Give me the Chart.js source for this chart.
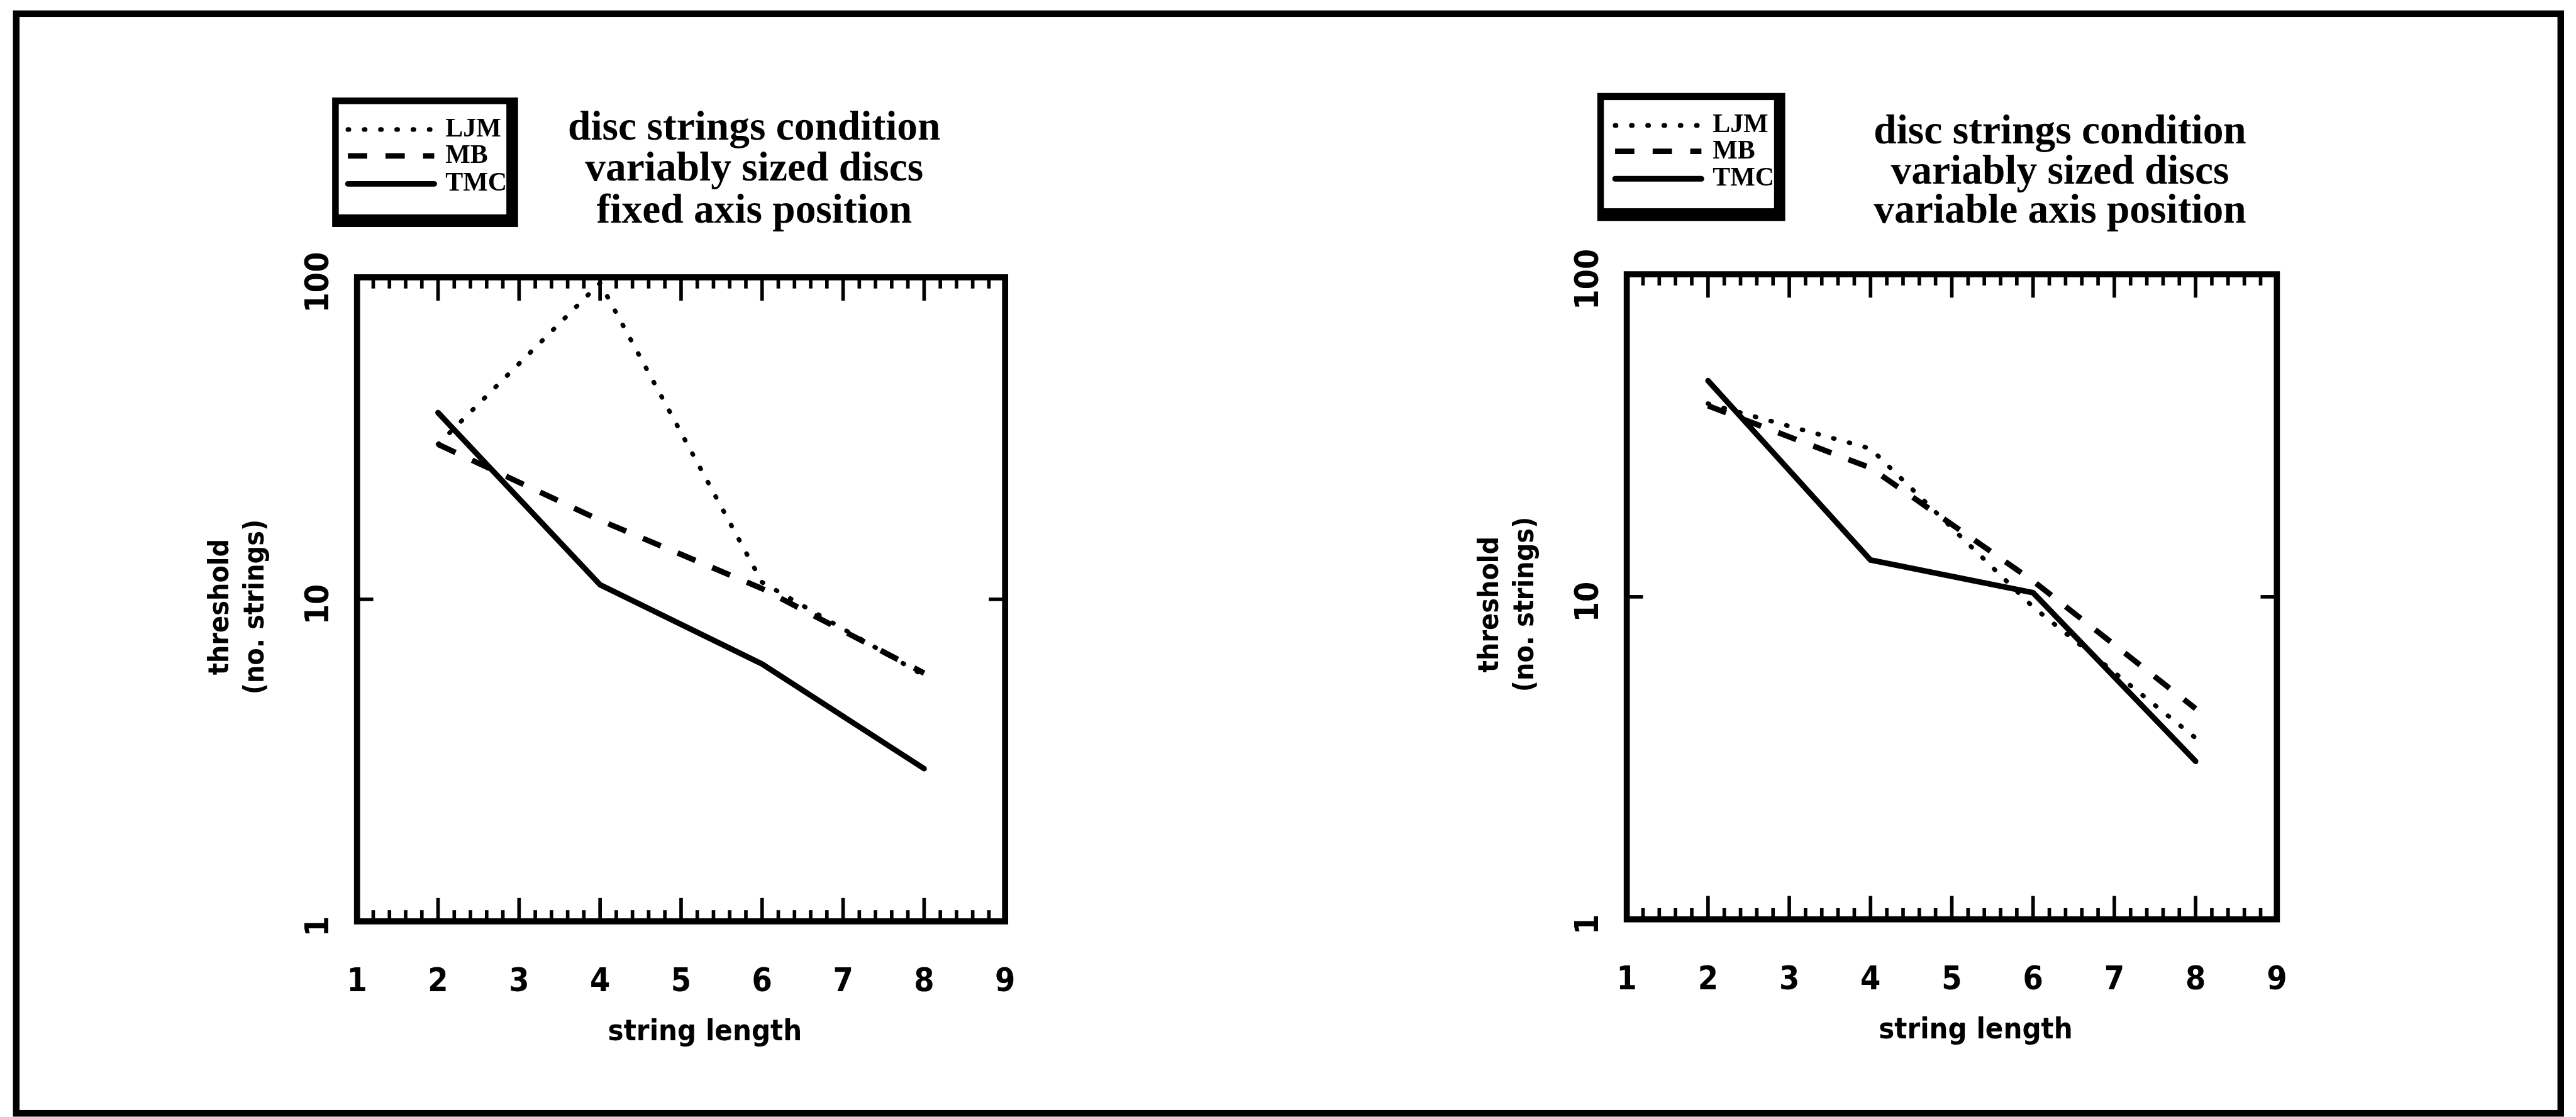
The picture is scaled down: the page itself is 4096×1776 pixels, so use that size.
<!DOCTYPE html>
<html>
<head>
<meta charset="utf-8">
<script src="https://cdn.jsdelivr.net/npm/chart.js@4.4.1/dist/chart.umd.min.js"></script>
<style>
  html, body { margin: 0; padding: 0; background: #fff; }
  #page { position: relative; width: 4096px; height: 1776px; overflow: hidden; background: #fff; }
  #page canvas { position: absolute; left: 0; top: 0; }
</style>
</head>
<body>
<div id="page">
  <canvas id="leftChart" width="4096" height="1776"></canvas>
  <canvas id="rightChart" width="4096" height="1776"></canvas>
</div>
<script>
// Values
const stringLength = [2, 4, 6, 8];
const seriesNames = ['LJM', 'MB', 'TMC'];

// fixed axis position panel
const fixedLJM = [30.3, 96, 11.3, 5.8];
const fixedMB = [30.3, 17.6, 10.8, 5.9];
const fixedTMC = [38.0, 11.1, 6.3, 2.98];

// variable axis position panel
const varLJM = [39.7, 28.8, 9.3, 3.65];
const varMB = [39.1, 25.1, 11.2, 4.5];
const varTMC = [46.8, 13.0, 10.3, 3.09];

const xTicks = [1, 2, 3, 4, 5, 6, 7, 8, 9];
const xTickLabels = ['1', '2', '3', '4', '5', '6', '7', '8', '9'];
const yTicks = [1, 10, 100];
const yTickLabels = ['1', '10', '100'];
const xTitle = 'string length';
const yTitle = ['threshold', '(no. strings)'];
const titleFixed = ['disc strings condition', 'variably sized discs', 'fixed axis position'];
const titleVariable = ['disc strings condition', 'variably sized discs', 'variable axis position'];

// everything below is measured in reference pixels and scaled down
const S = 4096 / 5072;
const px = v => v * S;

const sans = size => `bold ${px(size)}px 'DejaVu Sans Condensed', 'DejaVu Sans', sans-serif`;
const serif = size => `bold ${px(size)}px 'Liberation Serif', 'DejaVu Serif', serif`;

const lineStyles = [
  { borderWidth: px(9), borderDash: [px(2), px(30)], borderCapStyle: 'round' },
  { borderWidth: px(11), borderDash: [px(38), px(36)], borderCapStyle: 'butt' },
  { borderWidth: px(11), borderDash: [], borderCapStyle: 'round' }
];

function line(ctx, x1, y1, x2, y2) {
  ctx.beginPath();
  ctx.moveTo(x1, y1);
  ctx.lineTo(x2, y2);
  ctx.stroke();
}

const figurePlugin = {
  id: 'figure',
  beforeDatasetsDraw(chart, args, opts) {
    const { ctx, chartArea: a, scales: { x, y } } = chart;
    ctx.save();
    ctx.strokeStyle = '#000';
    ctx.lineCap = 'butt';

    if (opts.frame) {
      ctx.lineWidth = px(13);
      ctx.strokeRect(px(32), px(27), px(5042 - 32), px(2192 - 27));
    }

    // inward ticks, major every 1 and minor every 0.2
    ctx.lineWidth = px(7);
    for (let i = 0; i <= 40; i++) {
      const v = 1 + i * 0.2;
      const len = px(i % 5 === 0 ? 46 : 22);
      const xp = x.getPixelForValue(v);
      line(ctx, xp, a.bottom, xp, a.bottom - len);
      line(ctx, xp, a.top, xp, a.top + len);
    }
    yTicks.forEach(v => {
      const yp = y.getPixelForValue(v);
      line(ctx, a.left, yp, a.left + px(32), yp);
      line(ctx, a.right, yp, a.right - px(32), yp);
    });

    ctx.lineWidth = px(12);
    ctx.strokeRect(a.left, a.top, a.right - a.left, a.bottom - a.top);
    ctx.restore();
  },
  afterDraw(chart, args, opts) {
    const { ctx, chartArea: a, scales: { x, y } } = chart;
    ctx.save();
    ctx.fillStyle = '#000';

    // x tick labels
    ctx.font = sans(64);
    ctx.textAlign = 'center';
    ctx.textBaseline = 'alphabetic';
    xTicks.forEach((v, i) => {
      ctx.fillText(xTickLabels[i], x.getPixelForValue(v), a.bottom + px(138));
    });

    // x title
    ctx.font = sans(58);
    ctx.fillText(xTitle, (a.left + a.right) / 2 + px(47), a.bottom + px(234));

    // y tick labels, rotated
    ctx.font = sans(64);
    yTicks.forEach((v, i) => {
      ctx.save();
      ctx.translate(a.left - px(57), y.getPixelForValue(v) + px(10));
      ctx.rotate(-Math.PI / 2);
      ctx.fillText(yTickLabels[i], 0, 0);
      ctx.restore();
    });

    // y title, two rotated lines
    ctx.font = sans(55);
    yTitle.forEach((t, i) => {
      ctx.save();
      ctx.translate(a.left - px(253) + i * px(69), (a.top + a.bottom) / 2 + px(15));
      ctx.rotate(-Math.PI / 2);
      ctx.fillText(t, 0, 0);
      ctx.restore();
    });

    // legend box with heavy shadow on right and bottom
    const lg = opts.legend;
    ctx.fillRect(px(lg.outer[0]), px(lg.outer[1]), px(lg.outer[2] - lg.outer[0]), px(lg.outer[3] - lg.outer[1]));
    ctx.fillStyle = '#fff';
    ctx.fillRect(px(lg.inner[0]), px(lg.inner[1]), px(lg.inner[2] - lg.inner[0]), px(lg.inner[3] - lg.inner[1]));
    ctx.fillStyle = '#000';
    ctx.textAlign = 'left';
    ctx.textBaseline = 'middle';
    ctx.font = serif(52);
    chart.data.datasets.forEach((ds, i) => {
      const yy = px(lg.rows[i]);
      ctx.save();
      ctx.strokeStyle = ds.borderColor;
      ctx.lineWidth = ds.borderWidth;
      ctx.setLineDash(ds.borderDash);
      ctx.lineCap = ds.borderCapStyle;
      line(ctx, px(lg.lineX[0]), yy, px(lg.lineX[1]), yy);
      ctx.restore();
      ctx.fillText(ds.label, px(lg.labelX), yy);
    });

    // panel title
    ctx.font = serif(81);
    ctx.textAlign = 'center';
    ctx.textBaseline = 'alphabetic';
    opts.title.forEach((t, i) => {
      ctx.fillText(t, px(opts.titleX), px(opts.titleBaselines[i]));
    });
    ctx.restore();
  }
};

function makeChart(id, values, box, fig) {
  return new Chart(document.getElementById(id), {
    type: 'line',
    data: {
      datasets: seriesNames.map((name, i) => ({
        label: name,
        data: stringLength.map((v, j) => ({ x: v, y: values[i][j] })),
        borderColor: '#000',
        backgroundColor: '#000',
        fill: false,
        borderJoinStyle: 'round',
        ...lineStyles[i]
      }))
    },
    options: {
      responsive: false,
      animation: false,
      devicePixelRatio: 1,
      layout: {
        padding: {
          left: px(box[0]),
          top: px(box[1]),
          right: 4096 - px(box[2]),
          bottom: 1776 - px(box[3])
        }
      },
      elements: { point: { radius: 0 }, line: { tension: 0 } },
      scales: {
        x: { type: 'linear', min: 1, max: 9, display: false },
        y: { type: 'logarithmic', min: 1, max: 100, display: false }
      },
      plugins: {
        legend: { display: false },
        title: { display: false },
        tooltip: { enabled: false },
        figure: fig
      }
    },
    plugins: [figurePlugin]
  });
}

makeChart('leftChart', [fixedLJM, fixedMB, fixedTMC], [703, 546, 1979, 1814], {
  frame: true,
  title: titleFixed,
  titleX: 1485,
  titleBaselines: [275, 356, 438],
  legend: {
    outer: [654, 192, 1020, 447],
    inner: [667, 205, 997, 422],
    lineX: [685, 855],
    rows: [255, 307, 362],
    labelX: 877
  }
});

makeChart('rightChart', [varLJM, varMB, varTMC], [3203, 540, 4483, 1810], {
  frame: false,
  title: titleVariable,
  titleX: 4056,
  titleBaselines: [282, 362, 438],
  legend: {
    outer: [3145, 183, 3515, 435],
    inner: [3158, 197, 3493, 410],
    lineX: [3180, 3350],
    rows: [247, 298, 352],
    labelX: 3372
  }
});
</script>
</body>
</html>
